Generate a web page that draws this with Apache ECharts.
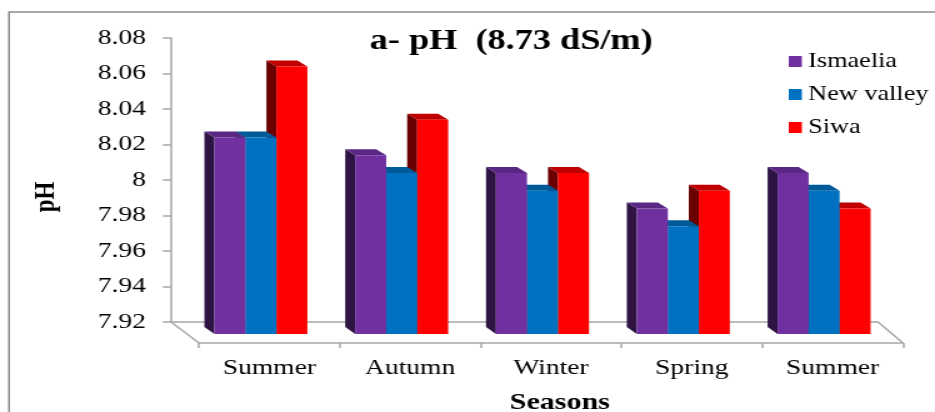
<!DOCTYPE html>
<html>
<head>
<meta charset="utf-8">
<script src="https://cdn.jsdelivr.net/npm/echarts@6/dist/echarts.min.js"></script>
<style>
  html, body { margin: 0; padding: 0; background: #fff; overflow: hidden; }
  /* the chart is laid out narrow and widened horizontally */
  #chart { width: 748px; height: 412px; transform: scaleX(1.25); transform-origin: 0 0; }
</style>
</head>
<body>
<div id="chart"></div>
<script>
// ---- data ----
const seasons = ['Summer', 'Autumn', 'Winter', 'Spring', 'Summer'];
const ismaelia = [8.02, 8.01, 8.00, 7.98, 8.00];
const newValley = [8.02, 8.00, 7.99, 7.97, 7.99];
const siwa = [8.06, 8.03, 8.00, 7.99, 7.98];
const seriesNames = ['Ismaelia', 'New valley', 'Siwa'];
const yMin = 7.92, yMax = 8.08, yStep = 0.02;

// ---- layout (chart-space pixels) ----
const W = 748, H = 412;
const FONT = '"Liberation Serif", "Times New Roman", serif';
// back wall grid (carries the value axis)
const gA = { left: 136.8, right: 45.6, top: 38, height: 284 };
// front floor grid (carries the season axis and the boxes)
const gB = { left: 159.2, right: 25.6, top: 31, height: 284 };
const floorFrontY = 343;
const backBottom = gA.top + gA.height;
const frontOffset = floorFrontY - (gB.top + gB.height);

// box geometry
const BAR_W = 24.8, DEPTH_X = -8, DEPTH_Y = -6, GROUP_SHIFT = -6.8, BASE_DROP = 19;

const palettes = [
  { front: '#7030a0', top: '#5b2785', side: '#2d1442' },
  { front: '#0070c0', top: '#005a9a', side: '#00375f' },
  { front: '#ff0000', top: '#c00000', side: '#6a0000' }
];

function boxRenderer(k) {
  return function (params, api) {
    const cat = api.value(0);
    const v = api.value(1);
    const topPt = api.coord([cat, v]);
    const basePt = api.coord([cat, yMin]);
    const x0 = topPt[0] + GROUP_SHIFT - 1.5 * BAR_W + k * BAR_W;
    const yt = topPt[1];
    const yb = basePt[1] + BASE_DROP;
    const c = palettes[k];
    return {
      type: 'group',
      children: [
        { type: 'polygon', shape: { points: [[x0, yt], [x0 + DEPTH_X, yt + DEPTH_Y], [x0 + DEPTH_X, yb + DEPTH_Y - 1], [x0, yb]] },
          style: { fill: c.side } },
        { type: 'polygon', shape: { points: [[x0, yt], [x0 + BAR_W, yt], [x0 + BAR_W + DEPTH_X, yt + DEPTH_Y], [x0 + DEPTH_X, yt + DEPTH_Y]] },
          style: { fill: c.top } },
        { type: 'rect', shape: { x: x0, y: yt, width: BAR_W, height: yb - yt },
          style: { fill: c.front } }
      ]
    };
  };
}

const values = [ismaelia, newValley, siwa];
const series = values.map((arr, k) => ({
  name: seriesNames[k],
  type: 'custom',
  xAxisIndex: 1,
  yAxisIndex: 1,
  z: 10 - k,
  itemStyle: { color: palettes[k].front },
  renderItem: boxRenderer(k),
  encode: { x: 0, y: 1 },
  data: arr.map((v, i) => [i, v])
}));

const gray = '#a6a6a6';
const chart = echarts.init(document.getElementById('chart'), null, { renderer: 'canvas' });
chart.setOption({
  backgroundColor: '#fff',
  animation: false,
  title: {
    text: 'a- pH  (8.73 dS/m)',
    left: 404, top: 22, textAlign: 'center',
    textStyle: { fontFamily: FONT, fontWeight: 'bold', fontSize: 29, color: '#000' }
  },
  legend: {
    orient: 'vertical', left: 626, top: 46,
    itemWidth: 10.5, itemHeight: 11, itemGap: 12,
    icon: 'rect',
    data: seriesNames,
    textStyle: { fontFamily: FONT, fontSize: 21, lineHeight: 21, color: '#000' }
  },
  grid: [
    { left: gA.left, right: gA.right, top: gA.top, height: gA.height, outerBoundsMode: 'none', containLabel: false },
    { left: gB.left, right: gB.right, top: gB.top, height: gB.height, outerBoundsMode: 'none', containLabel: false }
  ],
  xAxis: [
    { type: 'category', gridIndex: 0, data: seasons,
      axisLine: { lineStyle: { color: gray, width: 1.5 } },
      axisTick: { show: false }, axisLabel: { show: false } },
    { type: 'category', gridIndex: 1, data: seasons, offset: frontOffset,
      axisLine: { lineStyle: { color: gray, width: 1.5 } },
      axisTick: { show: true, interval: 0, length: 5, lineStyle: { color: gray, width: 1.5 } },
      axisLabel: { interval: 0, margin: 14, fontFamily: FONT, fontSize: 22, color: '#000' },
      name: 'Seasons', nameLocation: 'middle', nameGap: 48,
      nameTextStyle: { fontFamily: FONT, fontWeight: 'bold', fontSize: 24, color: '#000', padding: [0, 0, 0, 14] } }
  ],
  yAxis: [
    { type: 'value', gridIndex: 0, min: yMin, max: yMax, interval: yStep,
      axisLine: { show: true, lineStyle: { color: gray, width: 1.5 } },
      axisTick: { show: true, length: 6.4, lineStyle: { color: gray, width: 1.5 } },
      splitLine: { show: false },
      axisLabel: { margin: 20, fontFamily: FONT, fontSize: 22, color: '#000',
        formatter: v => String(+v.toFixed(2)) },
      name: 'pH', nameLocation: 'middle', nameRotate: 90, nameGap: 88,
      nameTextStyle: { fontFamily: FONT, fontWeight: 'bold', fontSize: 23, color: '#000', padding: [0, 34, 0, 0] } },
    { type: 'value', gridIndex: 1, min: yMin, max: yMax, interval: yStep, show: false }
  ],
  graphic: [
    // outer frame
    { type: 'rect', shape: { x: 7.2, y: 12, width: W + 20, height: H + 20 },
      style: { fill: null, stroke: '#8c8c8c', lineWidth: 1.5 }, silent: true, z: -1 },
    // floor edges joining the back wall and the front axis
    { type: 'line', shape: { x1: gA.left, y1: backBottom, x2: gB.left, y2: floorFrontY },
      style: { stroke: gray, lineWidth: 1.5 }, silent: true },
    { type: 'line', shape: { x1: W - gA.right, y1: backBottom, x2: W - gB.right, y2: floorFrontY },
      style: { stroke: gray, lineWidth: 1.5 }, silent: true }
  ],
  series: series
});
</script>
</body>
</html>
